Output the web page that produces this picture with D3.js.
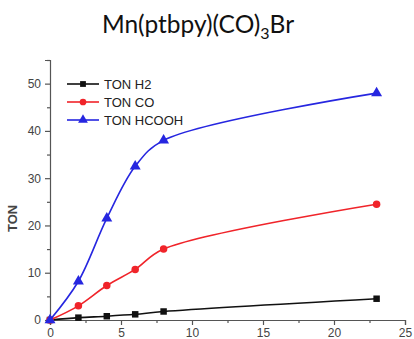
<!DOCTYPE html>
<html>
<head>
<meta charset="utf-8">
<script src="https://cdn.jsdelivr.net/npm/d3@7"></script>
<style>
  body { margin: 0; background: #fff; }
  svg { display: block; }
</style>
</head>
<body>
<script>
// time (h) and TON values
const hours = [0, 2, 4, 6, 8, 23]
const tonH2 = [0, 0.5, 0.8, 1.2, 1.8, 4.5]
const tonCO = [0, 3.0, 7.3, 10.7, 15.0, 24.5]
const tonHCOOH = [0, 8.2, 21.5, 32.5, 38.0, 48.0]
const xTicks = [0, 5, 10, 15, 20, 25]
const yTicks = [0, 10, 20, 30, 40, 50]

const width = 414
const height = 339
const margin = { left: 50, right: 9, top: 60, bottom: 19 }

const svg = d3.select("body")
    .append("svg")
    .attr("width", width)
    .attr("height", height)

const x = d3.scaleLinear().domain([0, 25]).range([margin.left, width - margin.right])
const y = d3.scaleLinear().domain([0, 55]).range([height - margin.bottom, margin.top])

// title
const title = svg.append("text")
    .attr("x", 198)
    .attr("y", 33)
    .attr("text-anchor", "middle")
    .style("font-family", "Lato, 'Open Sans', sans-serif")
    .style("font-size", "24.5px")
    .style("fill", "#111")
title.append("tspan").text("Mn(ptbpy)(CO)")
title.append("tspan").attr("dy", 6).style("font-size", "16px").text("3")
title.append("tspan").attr("dy", -6).text("Br")

const axisColor = "#555"

// x axis
const xAxis = svg.append("g")
    .attr("transform", `translate(0,${y(0)})`)
    .call(d3.axisBottom(x).tickValues(xTicks).tickSize(5).tickPadding(3))
xAxis.append("g")
    .call(d3.axisBottom(x).tickValues(d3.range(2.5, 25, 5)).tickSize(3).tickFormat(""))
    .select(".domain").remove()

// y axis
const yAxis = svg.append("g")
    .attr("transform", `translate(${x(0)},0)`)
    .call(d3.axisLeft(y).tickValues(yTicks).tickSize(5).tickPadding(4))
yAxis.append("g")
    .call(d3.axisLeft(y).tickValues(d3.range(5, 56, 10)).tickSize(3).tickFormat(""))
    .select(".domain").remove()

svg.selectAll(".domain, .tick line").attr("stroke", axisColor).attr("stroke-width", 1.2)
svg.selectAll(".tick text")
    .style("font-family", "'Liberation Sans', Arial, sans-serif")
    .style("font-size", "12px")
    .attr("fill", "#444")

svg.append("text")
    .attr("transform", `translate(17,${y(21.5)}) rotate(-90)`)
    .attr("text-anchor", "middle")
    .style("font-family", "'Liberation Sans', Arial, sans-serif")
    .style("font-size", "13px")
    .style("font-weight", "bold")
    .style("fill", "#444")
    .text("TON")

const series = [
    { name: "TON H2", values: tonH2, color: "#111", symbol: d3.symbolSquare, size: 42 },
    { name: "TON CO", values: tonCO, color: "#f0242a", symbol: d3.symbolCircle, size: 44 },
    { name: "TON HCOOH", values: tonHCOOH, color: "#2626e0", symbol: d3.symbolTriangle, size: 52 }
]

const line = d3.line()
    .x(d => x(d[0]))
    .y(d => y(d[1]))
    .curve(d3.curveCatmullRom.alpha(0.5))

series.forEach(s => {
    const pts = hours.map((h, i) => [h, s.values[i]])
    svg.append("path")
        .datum(pts)
        .attr("d", line)
        .attr("fill", "none")
        .attr("stroke", s.color)
        .attr("stroke-width", 1.6)
    svg.append("g")
        .selectAll("path")
        .data(pts)
        .enter().append("path")
        .attr("transform", d => `translate(${x(d[0])},${y(d[1])})`)
        .attr("d", d3.symbol().type(s.symbol).size(s.size))
        .attr("fill", s.color)
})

// legend
const legend = svg.append("g")
    .selectAll("g")
    .data(series)
    .enter().append("g")
    .attr("transform", (d, i) => `translate(67,${84 + i * 18})`)
legend.append("line")
    .attr("x1", 0).attr("x2", 32)
    .attr("stroke", d => d.color)
    .attr("stroke-width", 1.6)
legend.append("path")
    .attr("transform", "translate(16,0)")
    .attr("d", d => d3.symbol().type(d.symbol).size(d.size * 0.8)())
    .attr("fill", d => d.color)
legend.append("text")
    .attr("x", 37)
    .attr("dy", "0.36em")
    .style("font-family", "'Liberation Sans', Arial, sans-serif")
    .style("font-size", "13px")
    .style("fill", "#222")
    .text(d => d.name)
</script>
</body>
</html>
